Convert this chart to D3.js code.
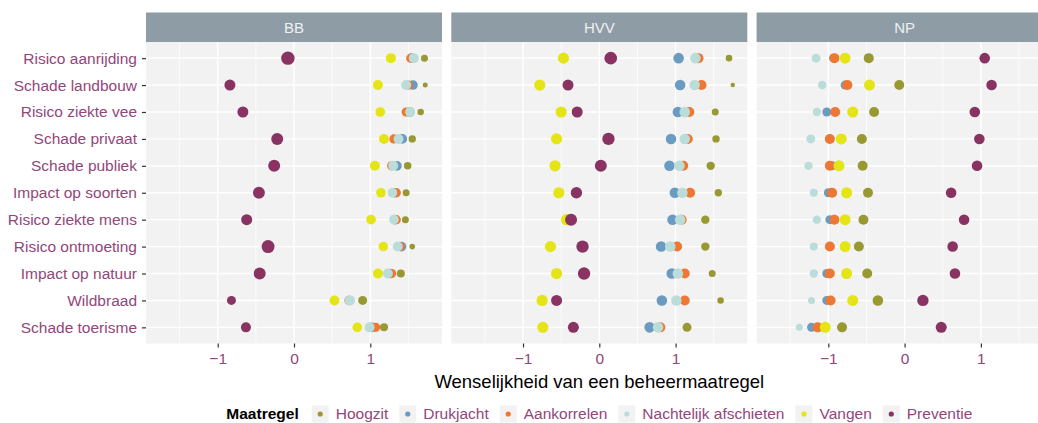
<!DOCTYPE html>
<html>
<head>
<meta charset="utf-8">
<script src="https://cdn.jsdelivr.net/npm/d3@7"></script>
<style>
  body { margin: 0; background: #fff; }
  text { font-family: "Liberation Sans", Arial, sans-serif; }
</style>
</head>
<body>
<div class="canvas"></div>
<script>
// categories (top to bottom)
const categories = ["Risico aanrijding", "Schade landbouw", "Risico ziekte vee", "Schade privaat",
  "Schade publiek", "Impact op soorten", "Risico ziekte mens", "Risico ontmoeting",
  "Impact op natuur", "Wildbraad", "Schade toerisme"];
const facets = ["BB", "HVV", "NP"];
const measures = ["Hoogzit", "Drukjacht", "Aankorrelen", "Nachtelijk afschieten", "Vangen", "Preventie"];
const measureColors = ["#999933", "#6b9bc0", "#ee7733", "#bbddda", "#e4e417", "#883361"];
const xTicks = [-1, 0, 1];

// desirability values per facet and measure
const bbHoogzit    = [1.71, 1.72, 1.66, 1.55, 1.49, 1.47, 1.46, 1.55, 1.40, 0.90, 1.18];
const bbDrukjacht  = [1.55, 1.56, 1.52, 1.42, 1.35, 1.33, 1.32, 1.41, 1.26, 0.73, 1.02];
const bbAankorrelen= [1.53, 1.50, 1.47, 1.31, 1.28, 1.34, 1.34, 1.39, 1.28, 0.72, 1.07];
const bbNachtelijk = [1.57, 1.47, 1.52, 1.37, 1.30, 1.29, 1.31, 1.36, 1.23, 0.73, 0.99];
const bbVangen     = [1.27, 1.10, 1.13, 1.18, 1.06, 1.14, 1.01, 1.17, 1.10, 0.53, 0.83];
const bbPreventie  = [-0.08, -0.84, -0.67, -0.22, -0.26, -0.46, -0.62, -0.34, -0.45, -0.82, -0.63];

const hvvHoogzit    = [1.70, 1.75, 1.52, 1.53, 1.46, 1.56, 1.39, 1.39, 1.48, 1.59, 1.15];
const hvvDrukjacht  = [1.04, 1.06, 1.03, 0.94, 0.92, 0.99, 0.96, 0.81, 0.95, 0.82, 0.66];
const hvvAankorrelen= [1.30, 1.34, 1.18, 1.16, 1.10, 1.19, 1.08, 1.02, 1.12, 1.12, 0.80];
const hvvNachtelijk = [1.26, 1.25, 1.12, 1.12, 1.05, 1.09, 1.06, 0.93, 1.03, 1.01, 0.77];
const hvvVangen     = [-0.47, -0.78, -0.50, -0.56, -0.58, -0.53, -0.43, -0.64, -0.56, -0.75, -0.74];
const hvvPreventie  = [0.15, -0.41, -0.29, 0.12, 0.02, -0.30, -0.37, -0.22, -0.20, -0.56, -0.34];

const npHoogzit    = [-0.47, -0.07, -0.40, -0.56, -0.55, -0.48, -0.54, -0.60, -0.49, -0.35, -0.82];
const npDrukjacht  = [-0.93, -0.78, -1.02, -0.98, -0.95, -1.00, -0.98, -0.98, -1.02, -1.02, -1.22];
const npAankorrelen= [-0.92, -0.75, -0.91, -0.98, -0.98, -0.95, -0.92, -0.98, -0.98, -0.97, -1.14];
const npNachtelijk = [-1.16, -1.08, -1.15, -1.23, -1.26, -1.19, -1.15, -1.19, -1.19, -1.22, -1.38];
const npVangen     = [-0.78, -0.46, -0.68, -0.83, -0.86, -0.76, -0.78, -0.78, -0.76, -0.68, -1.04];
const npPreventie  = [1.05, 1.14, 0.92, 0.98, 0.95, 0.61, 0.78, 0.63, 0.66, 0.24, 0.48];

// point weights (mapped to point area)
const bbHoogzitW    = [25, 13, 22, 28, 29, 25, 25, 16, 33, 41, 33];
const bbDrukjachtW  = [47, 47, 47, 47, 47, 47, 47, 47, 47, 47, 47];
const bbAankorrelenW= [43, 43, 43, 43, 43, 43, 43, 43, 43, 43, 43];
const bbNachtelijkW = [51, 51, 48, 51, 51, 48, 48, 51, 51, 51, 51];
const bbVangenW     = [51, 51, 48, 51, 51, 48, 48, 46, 51, 51, 48];
const bbPreventieW  = [92, 62, 62, 73, 73, 73, 62, 86, 73, 41, 51];

const hvvHoogzitW    = [22, 10, 25, 28, 36, 28, 36, 36, 25, 22, 41];
const hvvDrukjachtW  = [57, 57, 57, 57, 57, 57, 57, 57, 57, 57, 57];
const hvvAankorrelenW= [51, 51, 51, 51, 51, 51, 51, 51, 51, 51, 51];
const hvvNachtelijkW = [57, 57, 57, 57, 57, 57, 57, 57, 57, 57, 57];
const hvvVangenW     = [64, 64, 64, 64, 64, 64, 64, 64, 64, 64, 64];
const hvvPreventieW  = [81, 62, 62, 78, 73, 66, 73, 78, 78, 62, 62];

const npHoogzitW    = [51, 51, 51, 51, 51, 51, 51, 51, 51, 57, 51];
const npDrukjachtW  = [41, 41, 41, 41, 41, 41, 41, 41, 41, 41, 41];
const npAankorrelenW= [51, 51, 51, 51, 51, 51, 51, 51, 51, 51, 51];
const npNachtelijkW = [41, 38, 36, 41, 36, 33, 36, 33, 36, 25, 25];
const npVangenW     = [62, 62, 62, 62, 62, 62, 62, 62, 62, 62, 62];
const npPreventieW  = [57, 57, 57, 57, 57, 57, 57, 57, 57, 66, 62];

const facetValues = {
  BB: [bbHoogzit, bbDrukjacht, bbAankorrelen, bbNachtelijk, bbVangen, bbPreventie],
  HVV: [hvvHoogzit, hvvDrukjacht, hvvAankorrelen, hvvNachtelijk, hvvVangen, hvvPreventie],
  NP: [npHoogzit, npDrukjacht, npAankorrelen, npNachtelijk, npVangen, npPreventie]
};
const facetWeights = {
  BB: [bbHoogzitW, bbDrukjachtW, bbAankorrelenW, bbNachtelijkW, bbVangenW, bbPreventieW],
  HVV: [hvvHoogzitW, hvvDrukjachtW, hvvAankorrelenW, hvvNachtelijkW, hvvVangenW, hvvPreventieW],
  NP: [npHoogzitW, npDrukjachtW, npAankorrelenW, npNachtelijkW, npVangenW, npPreventieW]
};

const width = 1038, height = 423;
const panel = {left: 146, top: 42, width: 296, height: 301.5, gap: 9.3, strip: 29.5};
const labelColor = "#93467a";
const fontSize = "15.5px";

const svg = d3.select(".canvas")
    .append("svg")
    .attr("width", width)
    .attr("height", height);

const x = d3.scaleLinear().domain([-1.94, 1.94]).range([0, panel.width]);
const y = d3.scalePoint().domain(categories).range([0, panel.height]).padding(0.6);
const r = d3.scaleSqrt().domain([0, 100]).range([0, 7]);
const color = d3.scaleOrdinal().domain(measures).range(measureColors);

facets.forEach((f, fi) => {
  const px = panel.left + fi * (panel.width + panel.gap);
  const g = svg.append("g").attr("transform", `translate(${px}, ${panel.top})`);

  // strip
  svg.append("rect")
      .attr("x", px).attr("y", panel.top - panel.strip)
      .attr("width", panel.width).attr("height", panel.strip)
      .attr("fill", "#8e9ca6");
  svg.append("text")
      .attr("x", px + panel.width / 2).attr("y", panel.top - panel.strip / 2)
      .attr("dy", "0.35em")
      .attr("text-anchor", "middle")
      .attr("fill", "#eef0f2")
      .style("font-size", "15px")
      .text(f);

  // background + grid
  g.append("rect")
      .attr("width", panel.width).attr("height", panel.height)
      .attr("fill", "#f2f2f2");
  g.selectAll("line.minor")
      .data([-1.5, -0.5, 0.5, 1.5])
      .enter().append("line")
      .attr("x1", d => x(d)).attr("x2", d => x(d))
      .attr("y1", 0).attr("y2", panel.height)
      .attr("stroke", "#fff").attr("stroke-width", 0.7);
  g.selectAll("line.vmajor")
      .data(xTicks)
      .enter().append("line")
      .attr("x1", d => x(d)).attr("x2", d => x(d))
      .attr("y1", 0).attr("y2", panel.height)
      .attr("stroke", "#fff").attr("stroke-width", 1.4);
  g.selectAll("line.hmajor")
      .data(categories)
      .enter().append("line")
      .attr("x1", 0).attr("x2", panel.width)
      .attr("y1", d => y(d)).attr("y2", d => y(d))
      .attr("stroke", "#fff").attr("stroke-width", 1.4);

  // points, drawn in legend order
  measures.forEach((m, mi) => {
    const vals = facetValues[f][mi];
    const wts = facetWeights[f][mi];
    g.selectAll(null)
        .data(categories.map((c, ci) => ({c, v: vals[ci], w: wts[ci]})))
        .enter().append("circle")
        .attr("cx", d => x(d.v))
        .attr("cy", d => y(d.c))
        .attr("r", d => r(d.w))
        .attr("fill", color(m));
  });

  // x axis
  const xa = svg.append("g")
      .attr("transform", `translate(${px}, ${panel.top + panel.height})`)
      .call(d3.axisBottom(x).tickValues(xTicks).tickFormat(d3.format("d")).tickSize(4).tickPadding(5));
  xa.select(".domain").remove();
  xa.selectAll(".tick line").attr("stroke", "#333").attr("stroke-width", 1.2);
  xa.selectAll(".tick text")
      .attr("fill", labelColor)
      .style("font-size", fontSize)
      .style("font-family", "'Liberation Sans', Arial, sans-serif");
});

// y axis
const ya = svg.append("g")
    .attr("transform", `translate(${panel.left}, ${panel.top})`)
    .call(d3.axisLeft(y).tickSize(4).tickPadding(5));
ya.select(".domain").remove();
ya.selectAll(".tick line").attr("stroke", "#333").attr("stroke-width", 1.2);
ya.selectAll(".tick text")
    .attr("fill", labelColor)
    .style("font-size", fontSize)
    .style("font-family", "'Liberation Sans', Arial, sans-serif");

// axis title
const plotCenter = panel.left + (3 * panel.width + 2 * panel.gap) / 2;
svg.append("text")
    .attr("x", plotCenter).attr("y", 388)
    .attr("text-anchor", "middle")
    .attr("fill", "#000")
    .style("font-size", "18.5px")
    .text("Wenselijkheid van een beheermaatregel");

// legend
const legend = svg.append("g").attr("transform", "translate(0, 414)");
const title = legend.append("text")
    .attr("y", 0).attr("dy", "0.35em")
    .attr("fill", "#000")
    .style("font-size", fontSize)
    .style("font-weight", "bold")
    .text("Maatregel");
let cursor = title.node().getComputedTextLength() + 13;
measures.forEach((m, i) => {
  const item = legend.append("g").attr("transform", `translate(${cursor}, 0)`);
  item.append("rect")
      .attr("x", 0).attr("y", -8.5)
      .attr("width", 17).attr("height", 17)
      .attr("fill", "#f2f2f2");
  item.append("circle")
      .attr("cx", 8.5).attr("cy", 0).attr("r", 2.6)
      .attr("fill", color(m));
  const t = item.append("text")
      .attr("x", 24).attr("dy", "0.35em")
      .attr("fill", labelColor)
      .style("font-size", fontSize)
      .text(m);
  cursor += 24 + t.node().getComputedTextLength() + (i < measures.length - 1 ? 11 : 0);
});
legend.attr("transform", `translate(${plotCenter - cursor / 2}, 414)`);
</script>
</body>
</html>
